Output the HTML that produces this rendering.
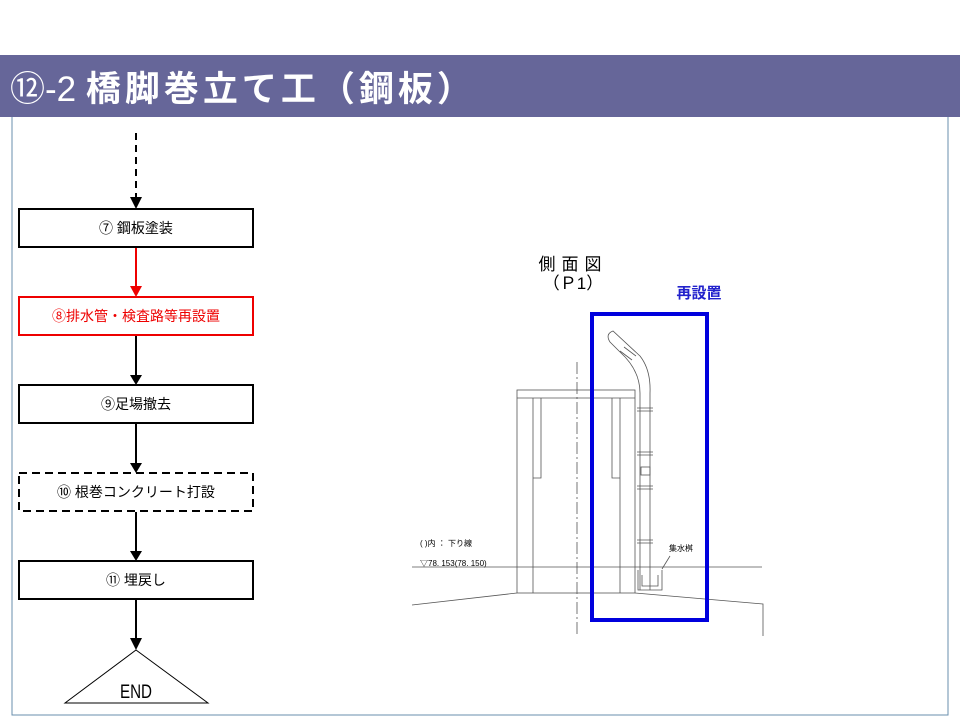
<!DOCTYPE html>
<html><head><meta charset="utf-8"><style>
body{margin:0;width:960px;height:720px;background:#fff;overflow:hidden;font-family:"Liberation Sans","Noto Sans CJK JP",sans-serif;}
</style></head><body>
<svg width="960" height="720" xmlns="http://www.w3.org/2000/svg" style="position:absolute;left:0;top:0">
<rect x="0" y="55" width="960" height="62" fill="#666699"/>
<text x="10" y="101" fill="#fff" font-size="35" font-family="Liberation Sans,Noto Sans CJK JP,sans-serif"><tspan>⑫-2 </tspan><tspan font-weight="bold" letter-spacing="4">橋脚巻立て工（鋼板）</tspan></text>
<path d="M12 117 V715 H948 V117" fill="none" stroke="#6a8fae" stroke-width="1"/>
<g stroke-width="2" fill="none">
<line x1="136" y1="133" x2="136" y2="198" stroke="#000" stroke-dasharray="7,5"/>
<line x1="136" y1="248" x2="136" y2="287" stroke="#e00"/>
<line x1="136" y1="336" x2="136" y2="375" stroke="#000"/>
<line x1="136" y1="424" x2="136" y2="463" stroke="#000"/>
<line x1="136" y1="512" x2="136" y2="551" stroke="#000"/>
<line x1="136" y1="600" x2="136" y2="640" stroke="#000"/>
<rect x="19" y="209" width="234" height="38" stroke="#000"/>
<rect x="19" y="297" width="234" height="38" stroke="#e00"/>
<rect x="19" y="385" width="234" height="38" stroke="#000"/>
<rect x="19" y="473" width="234" height="38" stroke="#000" stroke-dasharray="8,5"/>
<rect x="19" y="561" width="234" height="38" stroke="#000"/>
</g>
<path d="M130 197 H142 L136 209Z M130 375 H142 L136 385Z M130 463 H142 L136 473Z M130 551 H142 L136 561Z M130 638 H142 L136 650Z" fill="#000"/>
<path d="M130 286 H142 L136 297Z" fill="#e00"/>
<path d="M136 650 L208 703 L65 703Z" fill="#fff" stroke="#000" stroke-width="1"/>
<g font-size="14" text-anchor="middle" fill="#000">
<text x="136" y="233">⑦ 鋼板塗装</text>
<text x="136" y="321" fill="#e00">⑧排水管・検査路等再設置</text>
<text x="136" y="409">⑨足場撤去</text>
<text x="136" y="497">⑩ 根巻コンクリート打設</text>
<text x="136" y="585">⑪ 埋戻し</text>
<text x="136" y="698" font-size="19" transform="translate(136 0) scale(0.8 1) translate(-136 0)">END</text>
</g>
<g font-size="17" text-anchor="middle">
<text x="573" y="270" letter-spacing="6">側面図</text>
<text x="573" y="289">（Ｐ1）</text>
</g>
<text x="699" y="298" font-size="15" font-weight="bold" fill="#2222cc" text-anchor="middle">再設置</text>
<g stroke="#555" stroke-width="0.8" fill="none">
<rect x="517" y="390" width="118" height="203"/>
<line x1="517" y1="398" x2="635" y2="398"/>
<path d="M533 398 V478 H541 V398 M612 398 V478 H620 V398 M533 478 V593 M620 478 V593"/>
<line x1="577" y1="362" x2="577" y2="637" stroke-dasharray="12,3,2,3"/>
<line x1="412" y1="567" x2="762" y2="567"/>
<path d="M412 605 L517 593 M635 593 L763 604 V636"/>
<path d="M640 393 V590 M650 393 V590"/>
<path d="M640 393 Q640 370 620 352 L610 342 Q605 334 613 331 L640 356 Q651 370 650 393"/>
<path d="M620 351 L632 360 M624 347 L636 356"/>
<path d="M637 408 h16 M637 411 h16 M637 452 h16 M637 455 h16 M637 486 h16 M637 489 h16 M637 540 h16 M637 543 h16"/>
<rect x="641" y="467" width="9" height="8"/>
<path d="M638 570 V590 H662 V570 M642 575 V586 H658 V575"/>
<line x1="662" y1="569" x2="670" y2="556"/>
</g>
<g font-size="8" fill="#000">
<text x="420" y="546">( )内 ： 下り線</text>
<text x="420" y="566">▽78. 153(78. 150)</text>
<text x="669" y="551">集水桝</text>
</g>
<rect x="592" y="314" width="115" height="306" fill="none" stroke="#0000dd" stroke-width="4"/>
</svg>
</body></html>
